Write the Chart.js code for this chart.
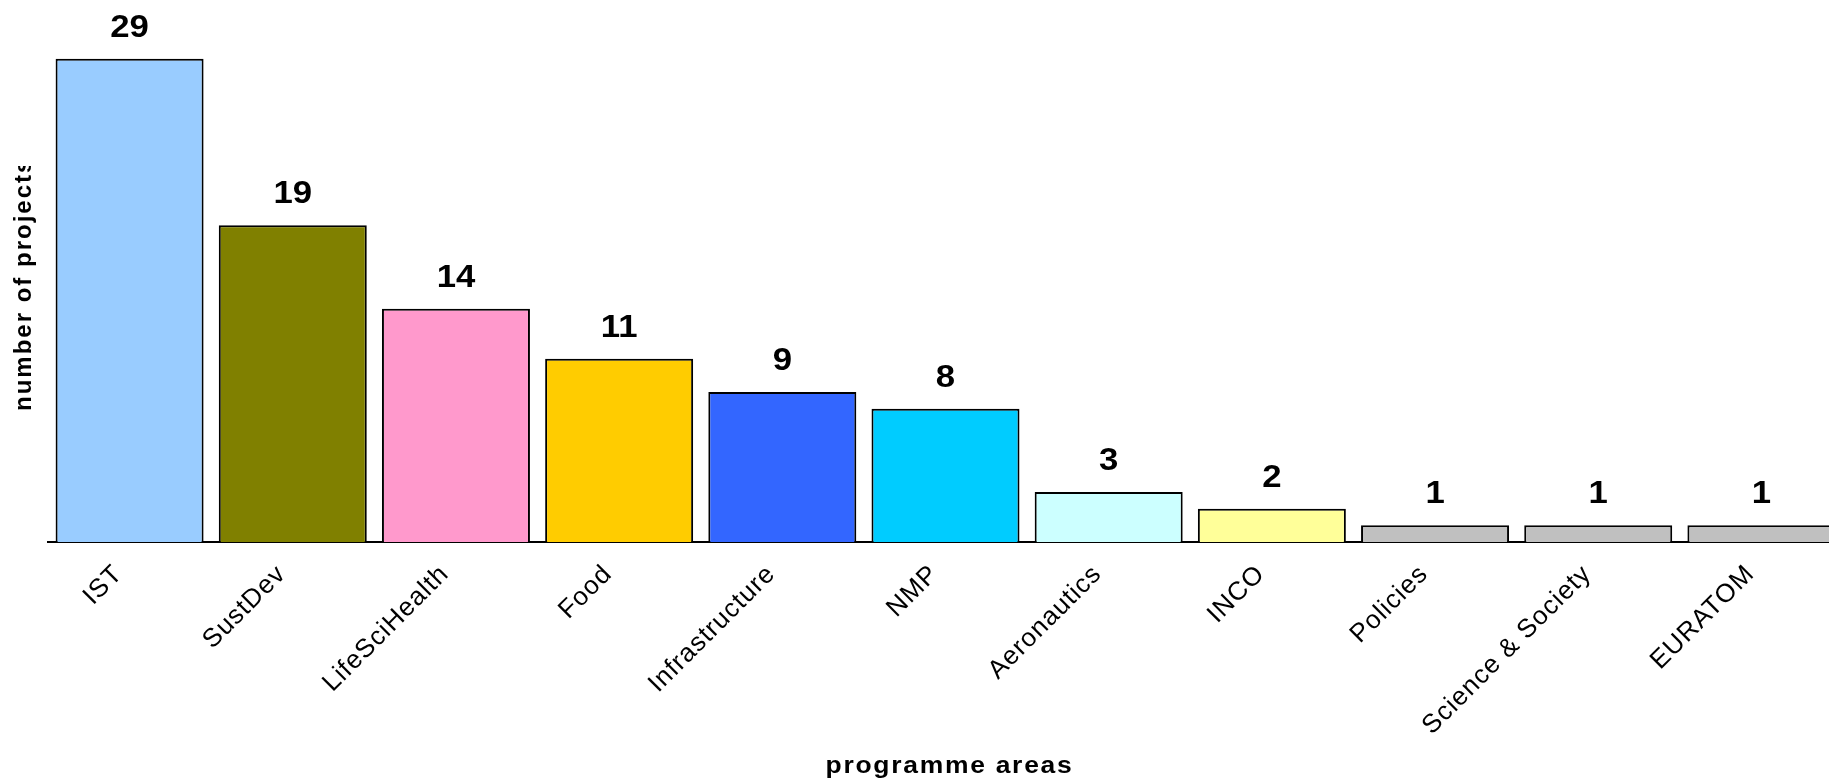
<!DOCTYPE html>
<html>
<head>
<meta charset="utf-8">
<title>Projects by programme area</title>
<script src="https://cdn.jsdelivr.net/npm/chart.js@4"></script>
<style>
  html, body { margin: 0; padding: 0; background: #fff; overflow: hidden; }
  /* the plot runs a little past the right edge, as in the original */
  #wrap { position: relative; width: 1850px; height: 782px; }
</style>
</head>
<body>
<div id="wrap"><canvas id="chartAreas"></canvas></div>
<script>
const AREAS = [
  "IST", "SustDev", "LifeSciHealth", "Food", "Infrastructure", "NMP",
  "Aeronautics", "INCO", "Policies", "Science & Society", "EURATOM",
];
const PROJECTS = [29, 19, 14, 11, 9, 8, 3, 2, 1, 1, 1];
const BAR_COLORS = [
  "#99ccff", "#808000", "#ff99cc", "#ffcc00", "#3366ff", "#00ccff",
  "#ccffff", "#ffff99", "#c0c0c0", "#c0c0c0", "#c0c0c0",
];
const Y_MAX = 30;
const X_TITLE = "programme areas";
const Y_TITLE = "number of projects";

const FONT = "Arial, 'Liberation Sans', Helvetica, sans-serif";

// the original picture was stretched sideways, so its text is wide
function wideText(ctx, text, x, y, sx) {
  ctx.save();
  ctx.translate(x, y);
  ctx.scale(sx, 1);
  ctx.fillText(text, 0, 0);
  ctx.restore();
}

const tickSpacing = {
  id: "tickSpacing",
  beforeDraw(chart) {
    chart.ctx.letterSpacing = "1px";
  },
  afterDraw(chart) {
    chart.ctx.letterSpacing = "0px";
  },
};

// numbers above the bars
const valueLabels = {
  id: "valueLabels",
  afterDatasetsDraw(chart) {
    const ctx = chart.ctx;
    const meta = chart.getDatasetMeta(0);
    ctx.save();
    ctx.font = "bold 31px " + FONT;
    ctx.letterSpacing = "0px";
    ctx.fillStyle = "#000";
    ctx.textAlign = "center";
    ctx.textBaseline = "alphabetic";
    meta.data.forEach((bar, i) => {
      wideText(ctx, String(PROJECTS[i]), bar.x, bar.y - 22, 1.12);
    });
    ctx.restore();
  },
};

// axis titles
const axisTitles = {
  id: "axisTitles",
  afterDraw(chart) {
    const ctx = chart.ctx;
    const area = chart.chartArea;
    ctx.save();
    ctx.fillStyle = "#000";
    ctx.font = "bold 23px " + FONT;
    ctx.letterSpacing = "1.5px";
    ctx.textAlign = "center";
    ctx.textBaseline = "alphabetic";
    wideText(ctx, X_TITLE, (area.left + area.right) / 2 + 4, chart.height - 9, 1.15);

    // the y title box was too short in the original, its end is cut off
    ctx.beginPath();
    ctx.rect(0, 166, 60, 400);
    ctx.clip();
    ctx.translate(31, area.bottom - 131);
    ctx.rotate(-Math.PI / 2);
    ctx.font = "bold 24px " + FONT;
    ctx.letterSpacing = "2px";
    ctx.textAlign = "left";
    ctx.fillText(Y_TITLE, 0, 0);
    ctx.restore();
  },
};

new Chart(document.getElementById("chartAreas"), {
  type: "bar",
  data: {
    labels: AREAS,
    datasets: [
      {
        data: PROJECTS,
        backgroundColor: BAR_COLORS,
        borderColor: "#000",
        borderWidth: 2,
        categoryPercentage: 1,
        barPercentage: 0.907,
      },
    ],
  },
  options: {
    responsive: true,
    maintainAspectRatio: false,
    animation: false,
    layout: { padding: { left: 48, right: 7, top: 42, bottom: 0 } },
    plugins: { legend: { display: false }, tooltip: { enabled: false } },
    scales: {
      x: {
        grid: { display: false, drawTicks: false },
        border: { display: true, color: "#000", width: 2 },
        ticks: {
          color: "#000",
          font: { family: FONT, size: 26 },
          minRotation: 45,
          maxRotation: 45,
          padding: 17,
          labelOffset: -11,
        },
        afterFit: (scale) => { scale.height = 240; },
      },
      y: { display: false, min: 0, max: Y_MAX },
    },
  },
  plugins: [tickSpacing, valueLabels, axisTitles],
});
</script>
</body>
</html>
